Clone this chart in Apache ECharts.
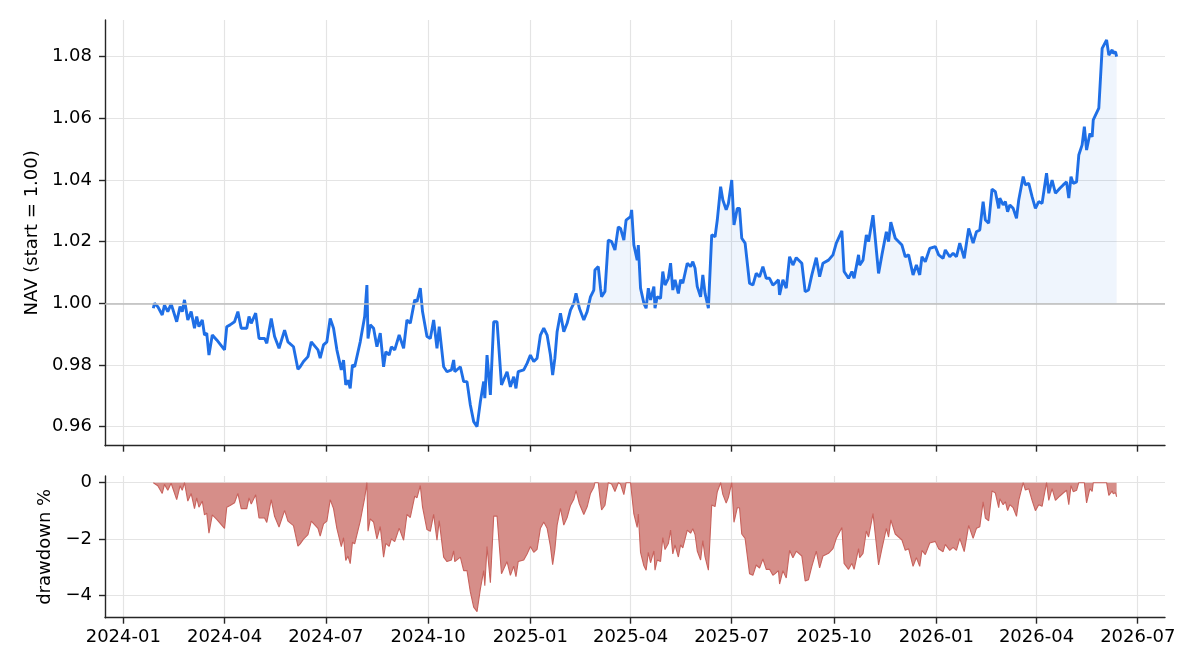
<!DOCTYPE html>
<html>
<head>
<meta charset="utf-8">
<script src="https://cdn.jsdelivr.net/npm/echarts@6/dist/echarts.min.js"></script>
<style>
html, body { margin: 0; padding: 0; background: #fff; }
#chart { width: 1204px; height: 672px; }
</style>
</head>
<body>
<div id="chart"></div>
<script>
// NAV readings (start = 1.00)
var dates = [
	'2024-01-28', '2024-01-29', '2024-02-01', '2024-02-05', '2024-02-07', '2024-02-10', '2024-02-13', '2024-02-18',
	'2024-02-21', '2024-02-23', '2024-02-25', '2024-02-28', '2024-03-02', '2024-03-05', '2024-03-07', '2024-03-09',
	'2024-03-12', '2024-03-14', '2024-03-16', '2024-03-18', '2024-03-21', '2024-03-25', '2024-04-01', '2024-04-03',
	'2024-04-06', '2024-04-10', '2024-04-13', '2024-04-16', '2024-04-21', '2024-04-23', '2024-04-25', '2024-04-29',
	'2024-05-02', '2024-05-07', '2024-05-09', '2024-05-13', '2024-05-16', '2024-05-20', '2024-05-25', '2024-05-28',
	'2024-06-02', '2024-06-06', '2024-06-08', '2024-06-11', '2024-06-15', '2024-06-18', '2024-06-24', '2024-06-26',
	'2024-06-29', '2024-07-02', '2024-07-05', '2024-07-08', '2024-07-11', '2024-07-15', '2024-07-17', '2024-07-19',
	'2024-07-21', '2024-07-23', '2024-07-25', '2024-07-27', '2024-08-01', '2024-08-05', '2024-08-07', '2024-08-08',
	'2024-08-10', '2024-08-13', '2024-08-16', '2024-08-19', '2024-08-22', '2024-08-24', '2024-08-27', '2024-08-29',
	'2024-09-01', '2024-09-05', '2024-09-09', '2024-09-12', '2024-09-15', '2024-09-19', '2024-09-21', '2024-09-24',
	'2024-09-26', '2024-09-30', '2024-10-03', '2024-10-06', '2024-10-09', '2024-10-11', '2024-10-15', '2024-10-18',
	'2024-10-22', '2024-10-24', '2024-10-25', '2024-10-30', '2024-11-02', '2024-11-05', '2024-11-08', '2024-11-11',
	'2024-11-14', '2024-11-17', '2024-11-20', '2024-11-21', '2024-11-23', '2024-11-26', '2024-11-29', '2024-12-02',
	'2024-12-06', '2024-12-11', '2024-12-14', '2024-12-17', '2024-12-19', '2024-12-21', '2024-12-26', '2024-12-29',
	'2025-01-01', '2025-01-04', '2025-01-07', '2025-01-10', '2025-01-13', '2025-01-16', '2025-01-19', '2025-01-21',
	'2025-01-23', '2025-01-25', '2025-01-28', '2025-01-31', '2025-02-03', '2025-02-06', '2025-02-09', '2025-02-11',
	'2025-02-14', '2025-02-18', '2025-02-21', '2025-02-24', '2025-02-27', '2025-02-28', '2025-03-03', '2025-03-05',
	'2025-03-06', '2025-03-09', '2025-03-12', '2025-03-15', '2025-03-18', '2025-03-21', '2025-03-23', '2025-03-26',
	'2025-03-28', '2025-04-01', '2025-04-02', '2025-04-04', '2025-04-07', '2025-04-08', '2025-04-10', '2025-04-13',
	'2025-04-15', '2025-04-17', '2025-04-19', '2025-04-22', '2025-04-23', '2025-04-25', '2025-04-28', '2025-04-30',
	'2025-05-02', '2025-05-05', '2025-05-07', '2025-05-09', '2025-05-11', '2025-05-14', '2025-05-16', '2025-05-18',
	'2025-05-22', '2025-05-25', '2025-05-27', '2025-05-29', '2025-05-31', '2025-06-03', '2025-06-05', '2025-06-07',
	'2025-06-10', '2025-06-13', '2025-06-16', '2025-06-18', '2025-06-21', '2025-06-23', '2025-06-26', '2025-06-28',
	'2025-07-01', '2025-07-03', '2025-07-06', '2025-07-08', '2025-07-10', '2025-07-13', '2025-07-17', '2025-07-20',
	'2025-07-23', '2025-07-26', '2025-07-29', '2025-08-01', '2025-08-04', '2025-08-07', '2025-08-09', '2025-08-12',
	'2025-08-13', '2025-08-16', '2025-08-19', '2025-08-22', '2025-08-25', '2025-08-28', '2025-09-02', '2025-09-05',
	'2025-09-08', '2025-09-11', '2025-09-15', '2025-09-18', '2025-09-21', '2025-09-26', '2025-09-30', '2025-10-03',
	'2025-10-08', '2025-10-10', '2025-10-14', '2025-10-17', '2025-10-19', '2025-10-23', '2025-10-24', '2025-10-27',
	'2025-10-30', '2025-11-01', '2025-11-05', '2025-11-10', '2025-11-13', '2025-11-17', '2025-11-19', '2025-11-21',
	'2025-11-25', '2025-12-01', '2025-12-04', '2025-12-07', '2025-12-11', '2025-12-14', '2025-12-17', '2025-12-19',
	'2025-12-22', '2025-12-26', '2025-12-31', '2026-01-03', '2026-01-07', '2026-01-09', '2026-01-13', '2026-01-16',
	'2026-01-19', '2026-01-22', '2026-01-26', '2026-01-30', '2026-02-03', '2026-02-06', '2026-02-09', '2026-02-12',
	'2026-02-14', '2026-02-17', '2026-02-20', '2026-02-23', '2026-02-26', '2026-02-27', '2026-03-02', '2026-03-04',
	'2026-03-06', '2026-03-08', '2026-03-11', '2026-03-14', '2026-03-16', '2026-03-20', '2026-03-22', '2026-03-25',
	'2026-03-28', '2026-03-31', '2026-04-03', '2026-04-06', '2026-04-10', '2026-04-12', '2026-04-15', '2026-04-18',
	'2026-04-22', '2026-04-25', '2026-04-28', '2026-04-30', '2026-05-02', '2026-05-04', '2026-05-07', '2026-05-09',
	'2026-05-12', '2026-05-14', '2026-05-16', '2026-05-19', '2026-05-21', '2026-05-22', '2026-05-27', '2026-05-30',
	'2026-05-31', '2026-06-03', '2026-06-05', '2026-06-08', '2026-06-09', '2026-06-11', '2026-06-12'
];
var nav = [
	0.9984, 1.0000, 0.9989, 0.9962, 0.9994, 0.9973, 0.9998, 0.9940,
	0.9989, 0.9973, 1.0011, 0.9946, 0.9973, 0.9919, 0.9957, 0.9924,
	0.9946, 0.9897, 0.9903, 0.9832, 0.9897, 0.9881, 0.9849, 0.9924,
	0.9930, 0.9940, 0.9973, 0.9919, 0.9919, 0.9957, 0.9935, 0.9968,
	0.9886, 0.9886, 0.9870, 0.9951, 0.9892, 0.9854, 0.9913, 0.9875,
	0.9859, 0.9786, 0.9794, 0.9811, 0.9827, 0.9875, 0.9849, 0.9822,
	0.9865, 0.9875, 0.9951, 0.9919, 0.9849, 0.9784, 0.9816, 0.9735,
	0.9751, 0.9724, 0.9800, 0.9794, 0.9875, 0.9957, 1.0059, 0.9886,
	0.9930, 0.9919, 0.9859, 0.9903, 0.9794, 0.9843, 0.9832, 0.9859,
	0.9849, 0.9897, 0.9854, 0.9946, 0.9935, 1.0011, 1.0005, 1.0049,
	0.9973, 0.9892, 0.9886, 0.9946, 0.9854, 0.9924, 0.9794, 0.9778,
	0.9784, 0.9816, 0.9778, 0.9794, 0.9746, 0.9746, 0.9670, 0.9616,
	0.9600, 0.9681, 0.9746, 0.9692, 0.9832, 0.9703, 0.9940, 0.9940,
	0.9735, 0.9778, 0.9729, 0.9762, 0.9724, 0.9778, 0.9784, 0.9805,
	0.9832, 0.9811, 0.9822, 0.9897, 0.9919, 0.9897, 0.9832, 0.9767,
	0.9822, 0.9908, 0.9968, 0.9908, 0.9935, 0.9978, 1.0000, 1.0032,
	0.9984, 0.9946, 0.9973, 1.0021, 1.0043, 1.0108, 1.0119, 1.0049,
	1.0021, 1.0038, 1.0205, 1.0200, 1.0173, 1.0248, 1.0243, 1.0205,
	1.0270, 1.0281, 1.0303, 1.0189, 1.0140, 1.0189, 1.0049, 1.0000,
	0.9984, 1.0049, 1.0011, 1.0054, 0.9984, 1.0021, 1.0016, 1.0103,
	1.0059, 1.0081, 1.0130, 1.0043, 1.0076, 1.0032, 1.0076, 1.0065,
	1.0130, 1.0119, 1.0135, 1.0114, 1.0054, 1.0021, 1.0092, 1.0032,
	0.9984, 1.0222, 1.0216, 1.0270, 1.0378, 1.0335, 1.0303, 1.0324,
	1.0400, 1.0254, 1.0308, 1.0308, 1.0211, 1.0195, 1.0065, 1.0059,
	1.0097, 1.0086, 1.0119, 1.0081, 1.0081, 1.0059, 1.0065, 1.0076,
	1.0027, 1.0076, 1.0049, 1.0151, 1.0124, 1.0148, 1.0130, 1.0038,
	1.0043, 1.0092, 1.0148, 1.0086, 1.0130, 1.0140, 1.0157, 1.0195,
	1.0235, 1.0103, 1.0081, 1.0103, 1.0081, 1.0157, 1.0124, 1.0140,
	1.0222, 1.0200, 1.0286, 1.0097, 1.0157, 1.0232, 1.0200, 1.0263,
	1.0211, 1.0189, 1.0151, 1.0157, 1.0092, 1.0124, 1.0092, 1.0151,
	1.0135, 1.0178, 1.0184, 1.0157, 1.0146, 1.0173, 1.0151, 1.0162,
	1.0151, 1.0195, 1.0146, 1.0243, 1.0195, 1.0232, 1.0238, 1.0330,
	1.0270, 1.0260, 1.0370, 1.0362, 1.0308, 1.0341, 1.0319, 1.0330,
	1.0297, 1.0319, 1.0308, 1.0276, 1.0335, 1.0411, 1.0384, 1.0389,
	1.0346, 1.0308, 1.0330, 1.0324, 1.0422, 1.0357, 1.0400, 1.0357,
	1.0373, 1.0384, 1.0394, 1.0341, 1.0411, 1.0389, 1.0394, 1.0481,
	1.0514, 1.0573, 1.0497, 1.0551, 1.0540, 1.0595, 1.0633, 1.0827,
	1.0827, 1.0854, 1.0805, 1.0822, 1.0811, 1.0816, 1.0800
];
var quarterTicks = ['2024-01-01', '2024-04-01', '2024-07-01', '2024-10-01', '2025-01-01', '2025-04-01',
	'2025-07-01', '2025-10-01', '2026-01-01', '2026-04-01', '2026-07-01'];
var navTicks = [0.96, 0.98, 1.00, 1.02, 1.04, 1.06, 1.08];
var ddTicks = [-4, -2, 0];

var t = function(s) { return echarts.number.parseDate(s).getTime(); };

// drawdown % relative to the running peak of the NAV
var navPts = [], fillPts = [], ddPts = [];
var peak = -Infinity;
for (var i = 0; i < dates.length; i++) {
	var d = t(dates[i]);
	peak = Math.max(peak, nav[i]);
	navPts.push([d, nav[i]]);
	fillPts.push([d, Math.max(nav[i], 1)]);
	ddPts.push([d, (nav[i] / peak - 1) * 100]);
}

var font = 'DejaVu Sans';
var ink = '#262626';
var gridColor = '#e4e4e4';
var tickVals = quarterTicks.map(t);
var xMin = t('2023-12-15 13:00');
var xMax = t('2026-07-25 12:00');

function xAxisFor(gridIndex, showLabels) {
	return {
		type: 'value',
		gridIndex: gridIndex,
		min: xMin,
		max: xMax,
		axisLine: { show: true, onZero: false, lineStyle: { color: ink, width: 1.4 } },
		axisTick: { show: true, length: 6, lineStyle: { color: ink, width: 1.4 }, customValues: tickVals },
		axisLabel: {
			show: showLabels,
			customValues: tickVals,
			margin: 11,
			color: '#000',
			fontFamily: font,
			fontSize: 18,
			formatter: function(v) { return echarts.time.format(v, '{yyyy}-{MM}', false); }
		},
		splitLine: { show: true, lineStyle: { color: gridColor, width: 1.2 } }
	};
}

var option = {
	animation: false,
	backgroundColor: '#fff',
	grid: [
		{ left: 105, right: 39, top: 20, height: 425.7 },
		{ left: 105, right: 39, top: 476, height: 141.7 }
	],
	xAxis: [xAxisFor(0, false), xAxisFor(1, true)],
	yAxis: [{
		type: 'value',
		gridIndex: 0,
		min: 0.9538,
		max: 1.0919,
		name: 'NAV (start = 1.00)',
		nameLocation: 'middle',
		nameGap: 64,
		nameTextStyle: { color: '#000', fontFamily: font, fontSize: 18 },
		axisLine: { show: true, onZero: false, lineStyle: { color: ink, width: 1.4 } },
		axisTick: { show: true, length: 6, lineStyle: { color: ink, width: 1.4 }, customValues: navTicks },
		axisLabel: {
			customValues: navTicks,
			margin: 13,
			color: '#000',
			fontFamily: font,
			fontSize: 18,
			formatter: function(v) { return v.toFixed(2); }
		},
		splitLine: { show: true, lineStyle: { color: gridColor, width: 1.2 } }
	}, {
		type: 'value',
		gridIndex: 1,
		min: -4.78,
		max: 0.237,
		name: 'drawdown %',
		nameLocation: 'middle',
		nameGap: 50,
		nameTextStyle: { color: '#000', fontFamily: font, fontSize: 18 },
		axisLine: { show: true, onZero: false, lineStyle: { color: ink, width: 1.4 } },
		axisTick: { show: true, length: 6, lineStyle: { color: ink, width: 1.4 }, customValues: ddTicks },
		axisLabel: {
			customValues: ddTicks,
			margin: 13,
			color: '#000',
			fontFamily: font,
			fontSize: 18,
			formatter: function(v) { return String(v).replace('-', '\u2212'); }
		},
		splitLine: { show: true, lineStyle: { color: gridColor, width: 1.2 } }
	}],
	series: [{
		type: 'line',
		xAxisIndex: 0,
		yAxisIndex: 0,
		data: fillPts,
		showSymbol: false,
		silent: true,
		lineStyle: { width: 0 },
		areaStyle: { origin: 1, color: 'rgba(31, 111, 230, 0.1)' },
		z: 1
	}, {
		type: 'line',
		xAxisIndex: 0,
		yAxisIndex: 0,
		data: navPts,
		showSymbol: false,
		lineStyle: { color: '#1f6fe6', width: 2.9 },
		z: 3,
		markLine: {
			silent: true,
			symbol: 'none',
			label: { show: false },
			lineStyle: { color: '#bdbdbd', width: 1.6, type: 'solid' },
			data: [{ yAxis: 1 }]
		}
	}, {
		type: 'line',
		xAxisIndex: 1,
		yAxisIndex: 1,
		data: ddPts,
		showSymbol: false,
		lineStyle: { color: '#c8625c', width: 1.1 },
		areaStyle: { origin: 0, color: '#d68e89', opacity: 1 },
		z: 2
	}]
};

var my = echarts.init(document.getElementById('chart'));
my.setOption(option);
</script>
</body>
</html>
